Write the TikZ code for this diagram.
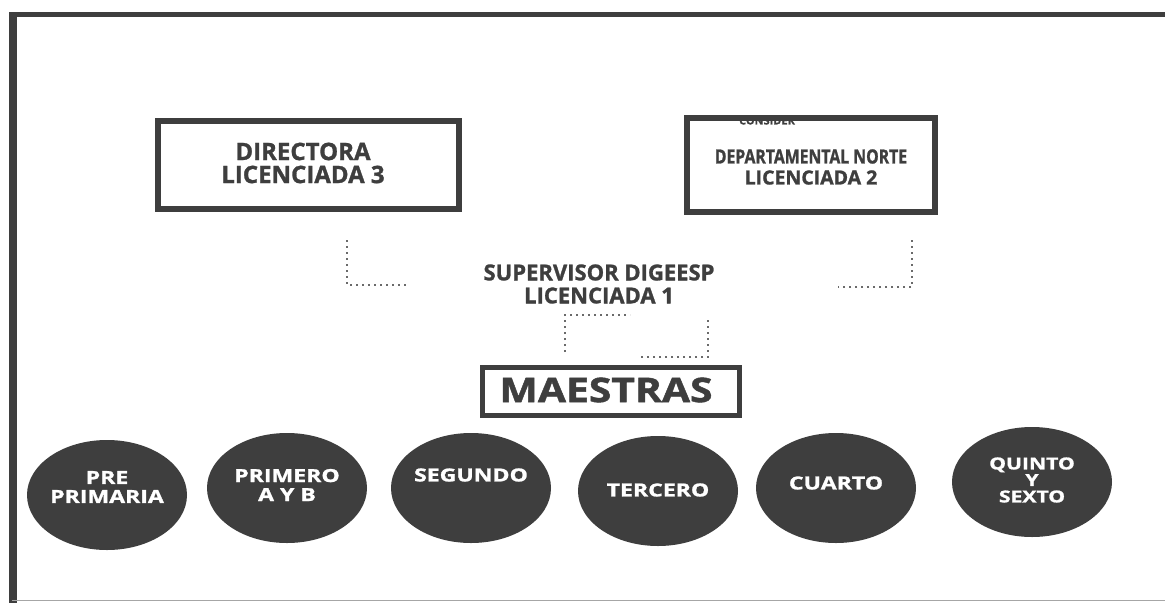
\documentclass[tikz,border=0pt]{standalone}
\usepackage{fontspec}
\setmainfont{Open Sans}[BoldFeatures={FakeBold=1.2}]
\usetikzlibrary{shapes.geometric}
\definecolor{dk}{HTML}{3E3E3E}
\definecolor{dotc}{HTML}{6A6A6A}
\begin{document}
\begin{tikzpicture}[x=1pt,y=-1pt,
  rbox/.style={draw=dk, line width=6pt, fill=white, inner sep=0},
  lbl/.style={text=dk, font=\bfseries\fontsize{24}{23}\selectfont, align=center, inner sep=0},
  dotline/.style={draw=dotc, line width=2.2pt, dash pattern=on 2pt off 4pt},
  grade/.style={ellipse, fill=dk, minimum width=160pt, minimum height=110pt, inner sep=0},
  gtext/.style={text=white, font=\bfseries\fontsize{18}{19}\selectfont, align=center, inner sep=0, xscale=1.28}]
\useasboundingbox (0,0) rectangle (1165,603);
\fill[white] (0,0) rectangle (1165,603);
% outer frame
\draw[dk, line width=5pt] (1165,14.5) -- (10,14.5);
\draw[dk, line width=8pt] (12.5,12) -- (12.5,603);
\draw[gray!70, line width=1.2pt] (12,600.5) -- (1165,600.5);
% top boxes
\node[rbox, minimum width=301pt, minimum height=88pt] (dir) at (308.5,165) {};
\node[lbl] (dirt) at (303,163) {DIRECTORA\\LICENCIADA 3};
\node[rbox, minimum width=248pt, minimum height=94pt] (dep) at (811,165) {};
\node[text=dk, font=\bfseries\fontsize{11}{11}\selectfont, inner sep=0] (cons) at (767,120.5) {CONSIDER};
\node[lbl, font=\bfseries\fontsize{19.5}{21}\selectfont] (dept) at (811,167) {\scalebox{0.81}[1]{DEPARTAMENTAL NORTE}\\LICENCIADA 2};
% supervisor
\node[lbl, font=\bfseries\fontsize{22}{23}\selectfont] (sup) at (599,284) {SUPERVISOR DIGEESP\\LICENCIADA 1};
% dotted connectors
\coordinate (l1) at (347,240);
\coordinate (l2) at (347,285);
\coordinate (l3) at (408,285);
\coordinate (r1) at (912,240);
\coordinate (r2) at (912,287);
\coordinate (r3) at (838,287);
\draw[dotline] (l1) -- (l2) -- (l3);
\draw[dotline] (r1) -- (r2) -- (r3);
\coordinate (m1) at (565,352);
\coordinate (m2) at (565,315);
\coordinate (m3) at (630,315);
\coordinate (n1) at (708,320);
\coordinate (n2) at (708,357);
\coordinate (n3) at (641,357);
\draw[dotline] (m1) -- (m2) -- (m3);
\draw[dotline] (n1) -- (n2) -- (n3);
% maestras
\node[rbox, line width=5pt, minimum width=257pt, minimum height=48pt] (mae) at (611,391.5) {};
\node[text=dk, font=\bfseries\fontsize{34}{34}\selectfont, inner sep=0, xscale=1.2] (maet) at (606,390) {MAESTRAS};
% grades
\node[grade] (g1) at (107,495) {};
\node[gtext] (t1) at (107,487) {PRE\\PRIMARIA};
\node[grade] (g2) at (287,488) {};
\node[gtext] (t2) at (287,485) {PRIMERO\\A Y B};
\node[grade] (g3) at (471,488) {};
\node[gtext] (t3) at (471,475) {SEGUNDO};
\node[grade] (g4) at (658,491) {};
\node[gtext] (t4) at (658,490) {TERCERO};
\node[grade] (g5) at (836,488) {};
\node[gtext] (t5) at (836,483) {CUARTO};
\node[grade] (g6) at (1032,482) {};
\node[gtext, font=\bfseries\fontsize{16.5}{16.5}\selectfont] (t6) at (1032,480) {QUINTO\\Y\\SEXTO};
\end{tikzpicture}
\end{document}
